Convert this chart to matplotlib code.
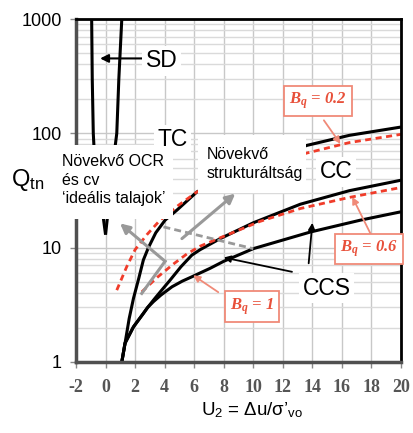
import numpy as np
import matplotlib
matplotlib.use('Agg')
import matplotlib.pyplot as plt
from matplotlib.patches import Rectangle
from matplotlib.ticker import NullFormatter

plt.rcParams['font.family'] = ['Liberation Sans', 'DejaVu Sans']
plt.rcParams['mathtext.fontset'] = 'custom'
plt.rcParams['mathtext.rm'] = 'Liberation Sans'
plt.rcParams['mathtext.it'] = 'Liberation Serif:italic:bold'
plt.rcParams['axes.unicode_minus'] = False

# curves (x = U2, y = Qtn)
sd_left_x = [-0.94, -0.9, -0.83, -0.78, 0.0]
sd_left_q = [1000, 300, 100, 75, 13]
sd_right_x = [1.1, 0.9, 0.76, 0.64, 0.0]
sd_right_q = [1000, 300, 100, 75, 13]

tc_x = [1.1, 1.32, 1.6, 1.89, 2.25, 2.56, 2.9, 3.4, 4.03, 4.83, 6.18, 8, 10, 12, 13.64, 16.5, 20]
tc_q = [1, 1.46, 2.4, 3.6, 5.4, 7.8, 10, 13.5, 17.4, 21.3, 30.7, 41, 54, 66, 78.5, 96, 113.5]

cc_x = [1.1, 1.32, 1.89, 2.56, 2.85, 3.3, 3.8, 4.37, 5.1, 5.84, 6.4, 7.76, 10, 13.19, 16.5, 20]
cc_q = [1, 1.46, 2.03, 2.66, 3.0, 3.55, 4.25, 5.2, 6.8, 8.6, 9.6, 12, 16.5, 24, 31.5, 38.9]

ccs_x = [1.1, 1.32, 1.89, 2.56, 2.85, 3.25, 3.75, 4.5, 5.2, 5.84, 7.08, 8, 10, 13.86, 17.25, 20]
ccs_q = [1, 1.46, 2.03, 2.66, 3.0, 3.38, 3.85, 4.55, 5.1, 5.56, 6.6, 7.6, 9.8, 13.7, 17.4, 20.6]

bq02_x = [0.76, 1.43, 2.0, 2.8, 3.69, 4.94, 6.18, 8, 10, 12, 13.64, 16.5, 20]
bq02_q = [4.25, 6.8, 9.6, 13.0, 17.4, 23.5, 30.7, 39, 48, 58, 67.3, 83, 98]

bq06_x = [2.45, 3.5, 4.6, 5.5, 6.4, 7.76, 10.47, 13.19, 16.5, 20]
bq06_q = [4.1, 5.5, 7.2, 8.8, 10.3, 12.2, 17.0, 22, 27.5, 33.6]

gray_dash_x = [3.92, 10.0]
gray_dash_q = [15.2, 9.8]

x_ticks = list(range(-2, 21, 2))
y_ticks = [1, 10, 100, 1000]
y_ticklabels = ['1', '10', '100', '1000']

W, H = 413, 433
fig = plt.figure(figsize=(W / 100, H / 100), dpi=100)
ax = fig.add_axes([76 / W, 71 / H, 325 / W, 343 / H])

ax.set_xlim(-2, 20)
ax.set_yscale('log')
ax.set_ylim(1, 1000)
ax.set_xticks(x_ticks)
ax.set_yticks(y_ticks)
ax.set_yticklabels(y_ticklabels)
ax.yaxis.set_minor_formatter(NullFormatter())
ax.set_axisbelow(True)
ax.grid(True, which='major', color='#c8c8c8', lw=1)
ax.grid(True, which='minor', axis='y', color='#dadada', lw=1)
ax.tick_params(which='minor', length=0)
ax.tick_params(axis='y', length=4, width=1, color='#888888', pad=6, labelsize=13)
ax.tick_params(axis='x', length=4, width=1, color='#888888', pad=8, labelsize=13, labelcolor='#555555')
for lbl in ax.get_xticklabels():
    lbl.set_fontfamily('Liberation Serif')
    lbl.set_fontweight('bold')

for s in ['left', 'bottom']:
    ax.spines[s].set_color('#505050')
    ax.spines[s].set_linewidth(2.5)
for s in ['top', 'right']:
    ax.spines[s].set_color('black')
    ax.spines[s].set_linewidth(2)

# curves
blk = dict(color='black', lw=2.2, zorder=2, solid_capstyle='butt', solid_joinstyle='round')
ax.plot(sd_left_x, sd_left_q, **blk)
ax.plot(sd_right_x, sd_right_q, **blk)
ax.plot(tc_x, tc_q, **blk)
ax.plot(cc_x, cc_q, **blk)
ax.plot(ccs_x, ccs_q, **blk)
red = '#f03c2a'
ax.plot(bq02_x, bq02_q, color=red, lw=2, dashes=(2.2, 1.6), zorder=2.1)
ax.plot(bq06_x, bq06_q, color=red, lw=2, dashes=(2.2, 1.6), zorder=2.1)
ax.plot(gray_dash_x, gray_dash_q, color='#999999', lw=2, dashes=(2.5, 1.5), zorder=2.2)


# white boxes behind the text blocks (figure pixels, top-left origin)
def white_box(x0, y0, x1, y1):
    ax.add_patch(Rectangle((x0 / W, 1 - y1 / H), (x1 - x0) / W, (y1 - y0) / H,
                           transform=fig.transFigure, facecolor='white',
                           edgecolor='none', zorder=3, clip_on=False))


white_box(57, 145, 173, 219)
white_box(198, 135, 306, 193)

# arrows
gray = '#999999'
ax.plot([2.45, 4.03], [3.98, 7.6], color=gray, lw=2.2, zorder=4)
ax.annotate('', xy=(0.98, 16.3), xytext=(4.03, 7.6),
            arrowprops=dict(arrowstyle='-|>', color=gray, lw=2.2, mutation_scale=14,
                            shrinkA=0, shrinkB=0), zorder=4)
ax.annotate('', xy=(8.78, 29.7), xytext=(5.17, 12.0),
            arrowprops=dict(arrowstyle='-|>', color=gray, lw=2.2, mutation_scale=14,
                            shrinkA=0, shrinkB=0), zorder=4)
ax.annotate('', xy=(-0.37, 452), xytext=(2.6, 452),
            arrowprops=dict(arrowstyle='-|>', color='black', lw=1.5, mutation_scale=12,
                            shrinkA=0, shrinkB=0), zorder=4)
ax.annotate('', xy=(8.0, 8.2), xytext=(12.62, 6.15),
            arrowprops=dict(arrowstyle='-|>', color='black', lw=1.3, mutation_scale=10,
                            shrinkA=0, shrinkB=0), zorder=4)
ax.annotate('', xy=(14.0, 16.5), xytext=(13.75, 7.3),
            arrowprops=dict(arrowstyle='-|>', color='black', lw=1.3, mutation_scale=10,
                            shrinkA=0, shrinkB=0), zorder=4)

bq_red = '#e8503a'
bq_edge = '#f08a78'
for tip, start in [((15.9, 81), (14.78, 130)), ((16.7, 27.8), (17.93, 13.3)),
                   ((5.93, 5.74), (7.63, 4.08))]:
    ax.annotate('', xy=tip, xytext=start,
                arrowprops=dict(arrowstyle='-|>', color=bq_edge, lw=1.3, mutation_scale=10,
                                shrinkA=0, shrinkB=0), zorder=4)


def bq_label(x, y, val):
    ax.text(x, y, r'$B_q$ = ' + val, ha='center', va='center', fontsize=12,
            family='Liberation Serif', style='italic', weight='bold', color=bq_red,
            bbox=dict(boxstyle='square,pad=0.3', fc='white', ec=bq_edge, lw=1.3), zorder=6)


bq_label(14.4, 192, '0.2')
bq_label(17.82, 9.7, '0.6')
bq_label(9.91, 3.04, '1')

big = dict(fontsize=16.5, ha='center', va='center', zorder=5,
           bbox=dict(boxstyle='square,pad=0.15', fc='white', ec='none'))
ax.text(3.8, 430, 'SD', **big)
ax.text(4.51, 87.8, 'TC', **big)
ax.text(15.6, 46, 'CC', **big)
ax.text(14.95, 4.43, 'CCS', **big)

fig.text(62 / W, 1 - 154 / H, 'Növekvő OCR\nés cv\n‘ideális talajok’', fontsize=11.5,
         ha='left', va='top', linespacing=1.3, zorder=6)
fig.text(207 / W, 1 - 147 / H, 'Növekvő\nstrukturáltság', fontsize=11.5,
         ha='left', va='top', linespacing=1.3, zorder=6)

fig.text(28 / W, 1 - 180 / H, r'Q$_{\mathrm{tn}}$', fontsize=17, ha='center', va='center')
fig.text(252 / W, 1 - 410 / H, r'U$_2$ = Δu/σ’$_{\mathrm{vo}}$', fontsize=13.5,
         ha='center', va='center')

plt.savefig('out.png', dpi=100)
plt.close(fig)
